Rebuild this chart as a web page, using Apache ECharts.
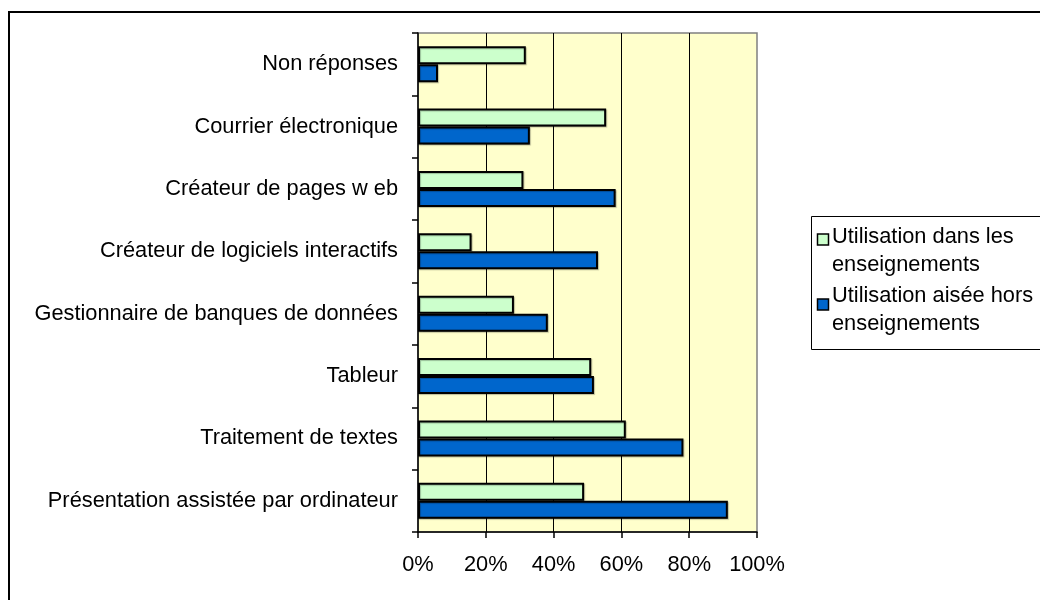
<!DOCTYPE html>
<html>
<head>
<meta charset="utf-8">
<script src="https://cdn.jsdelivr.net/npm/echarts@6/dist/echarts.min.js"></script>
<style>
html,body{margin:0;padding:0;background:#fff;}
#chart{width:1040px;height:600px;}
</style>
</head>
<body>
<div id="chart"></div>
<script>
// Categories listed bottom to top
var categories = [
  'Présentation assistée par ordinateur',
  'Traitement de textes',
  'Tableur',
  'Gestionnaire de banques de données',
  'Créateur de logiciels interactifs',
  'Créateur de pages w eb',
  'Courrier électronique',
  'Non réponses'
];
var seriesNames = ['Utilisation dans les enseignements', 'Utilisation aisée hors enseignements'];
var legendLines = [['Utilisation dans les', 'enseignements'], ['Utilisation aisée hors', 'enseignements']];
var usageInTeaching = [49, 61.3, 51.1, 28.3, 15.8, 31.1, 55.5, 31.8];
var easyUseOutside = [91.4, 78.3, 51.9, 38.3, 53.1, 58.3, 33, 5.9];
var xTicks = [0, 20, 40, 60, 80, 100];

var FONT = '"Liberation Sans", Arial, sans-serif';
var FS = 21.8;
var colors = ['#CCFFCC', '#0066CC'];

var chart = echarts.init(document.getElementById('chart'), null, {renderer: 'canvas'});

var legendGraphics = [];
var legendTextTop = [223, 282];
var legendMarkTop = [234, 299];
for (var i = 0; i < 2; i++) {
  legendGraphics.push({
    type: 'rect', z: 101,
    shape: {x: 817.5, y: legendMarkTop[i], width: 11, height: 11},
    style: {fill: colors[i], stroke: '#000', lineWidth: 1.5}
  });
  legendGraphics.push({
    type: 'text', z: 101, x: 832, y: legendTextTop[i],
    style: {text: legendLines[i].join('\n'), font: FS + 'px ' + FONT, fill: '#000', lineHeight: 28}
  });
}

var option = {
  animation: false,
  backgroundColor: '#fff',
  grid: {
    left: 418, right: 283, top: 33, bottom: 68,
    show: true, backgroundColor: '#FFFFCC', borderColor: '#808080', borderWidth: 1.5,
    containLabel: false
  },
  xAxis: {
    type: 'value', min: 0, max: 100, interval: 20,
    axisLine: {show: true, lineStyle: {color: '#000', width: 1.5}},
    axisTick: {show: true, length: 6, lineStyle: {color: '#000', width: 1.5}},
    axisLabel: {formatter: '{value}%', color: '#000', fontSize: FS, fontFamily: FONT, margin: 22},
    splitLine: {show: true, showMinLine: false, showMaxLine: false, lineStyle: {color: '#000', width: 1}}
  },
  yAxis: {
    type: 'category', data: categories,
    axisLine: {show: true, lineStyle: {color: '#000', width: 1.5}},
    axisTick: {show: true, length: 6, lineStyle: {color: '#000', width: 1.5}},
    axisLabel: {color: '#000', fontSize: FS, fontFamily: FONT, margin: 20},
    splitLine: {show: false}
  },
  series: [
    {
      name: seriesNames[0], type: 'bar', data: usageInTeaching,
      barWidth: 18, barGap: '0%',
      itemStyle: {color: colors[0], borderColor: '#000', borderWidth: 2,
        shadowColor: 'rgba(0,0,0,0.25)', shadowOffsetX: 1, shadowOffsetY: 1, shadowBlur: 1}
    },
    {
      name: seriesNames[1], type: 'bar', data: easyUseOutside,
      barWidth: 18, barGap: '0%',
      itemStyle: {color: colors[1], borderColor: '#000', borderWidth: 2,
        shadowColor: 'rgba(0,0,0,0.25)', shadowOffsetX: 1, shadowOffsetY: 1, shadowBlur: 1}
    }
  ],
  graphic: [
    {type: 'rect', z: -10, shape: {x: 9, y: 12, width: 1100, height: 700},
     style: {fill: 'none', stroke: '#000', lineWidth: 2}},
    {type: 'rect', z: 100, shape: {x: 811.5, y: 216.5, width: 300, height: 133},
     style: {fill: '#fff', stroke: '#000', lineWidth: 1}}
  ].concat(legendGraphics)
};
chart.setOption(option);
</script>
</body>
</html>
